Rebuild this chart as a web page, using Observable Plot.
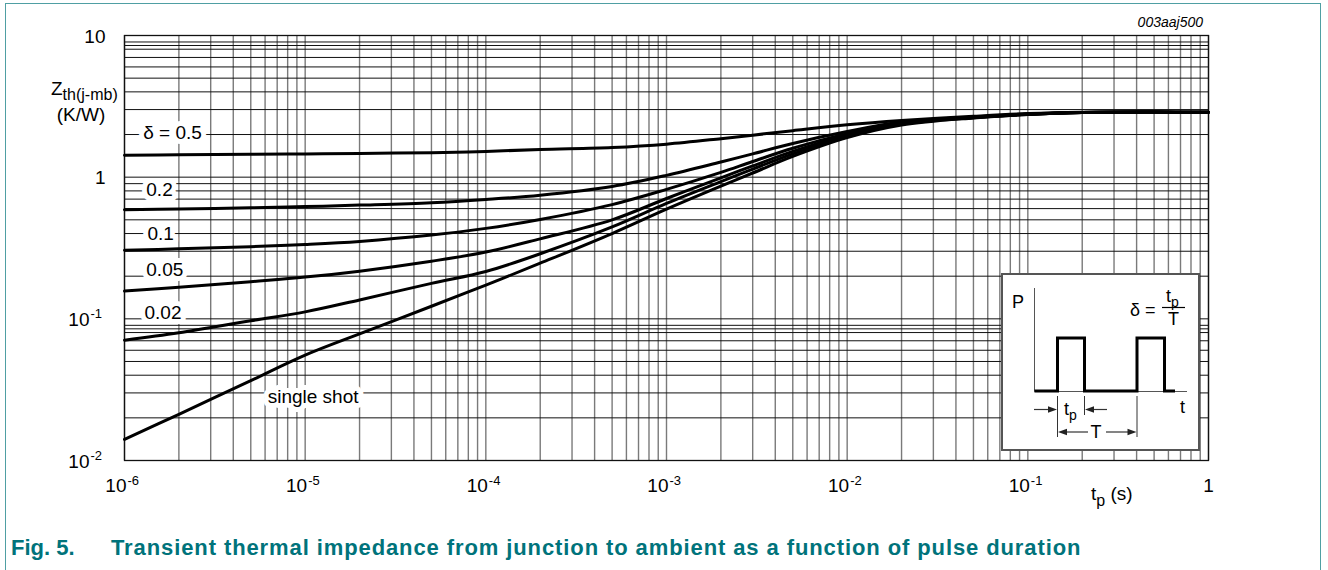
<!DOCTYPE html>
<html>
<head>
<meta charset="utf-8">
<script src="https://cdn.jsdelivr.net/npm/d3@7"></script>
<script src="https://cdn.jsdelivr.net/npm/@observablehq/plot@0.6"></script>
<style>
  body { margin: 0; background: #fff; width: 1328px; height: 570px; overflow: hidden; position: relative;
         font-family: "Liberation Sans", Arial, sans-serif; }
  #frame { position: absolute; left: 5px; top: 3px; width: 1316px; height: 620px;
           border: 1.5px solid #4f9fa3; border-bottom: none; box-sizing: border-box; }
  #chart { position: absolute; left: 0; top: 0; }
  #caption { position: absolute; top: 537px; left: 11px; font-weight: bold; font-size: 22px;
             line-height: 22px; color: #00737b; white-space: nowrap; }
  #caption .txt { position: absolute; left: 100px; top: 0; letter-spacing: 0.9px; }
</style>
</head>
<body>
<div id="frame"></div>
<div id="chart"></div>
<div id="caption"><span>Fig. 5.</span><span class="txt">Transient thermal impedance from junction to ambient as a function of pulse duration</span></div>
<script>
// Pulse duration t_p (s)
const tp = [1e-6, 2e-6, 5e-6, 1e-5, 2e-5, 5e-5, 1e-4, 2e-4, 5e-4, 1e-3,
            2e-3, 3e-3, 5e-3, 1e-2, 2e-2, 5e-2, 1e-1, 2e-1, 5e-1, 1];

// Zth(j-mb) in K/W for each duty cycle
const zDelta05  = [1.43, 1.44, 1.45, 1.46, 1.47, 1.49, 1.52, 1.57, 1.62, 1.71,
                   1.87, 1.98, 2.13, 2.34, 2.51, 2.69, 2.81, 2.87, 2.88, 2.87];
const zDelta02  = [0.59, 0.597, 0.608, 0.62, 0.635, 0.66, 0.696, 0.746, 0.86, 1.03,
                   1.28, 1.46, 1.73, 2.10, 2.45, 2.66, 2.79, 2.86, 2.88, 2.87];
const zDelta01  = [0.305, 0.312, 0.323, 0.335, 0.352, 0.39, 0.435, 0.503, 0.64, 0.82,
                   1.08, 1.29, 1.60, 2.03, 2.42, 2.65, 2.78, 2.86, 2.88, 2.87];
const zDelta005 = [0.157, 0.167, 0.183, 0.197, 0.217, 0.255, 0.296, 0.367, 0.50, 0.707,
                   0.99, 1.20, 1.52, 1.99, 2.40, 2.64, 2.78, 2.86, 2.88, 2.87];
const zDelta002 = [0.0707, 0.0797, 0.097, 0.112, 0.136, 0.178, 0.216, 0.288, 0.445, 0.652,
                   0.93, 1.14, 1.46, 1.95, 2.37, 2.63, 2.77, 2.86, 2.88, 2.87];
const zSingle   = [0.0141, 0.0212, 0.0366, 0.0554, 0.0783, 0.1227, 0.173, 0.247, 0.40, 0.594,
                   0.864, 1.07, 1.40, 1.90, 2.33, 2.62, 2.77, 2.86, 2.88, 2.87];

const seriesNames = ["0.5", "0.2", "0.1", "0.05", "0.02", "single shot"];
const seriesValues = [zDelta05, zDelta02, zDelta01, zDelta005, zDelta002, zSingle];

// Curve labels and their anchor points (t, Zth)
const labelText = ["δ = 0.5", "0.2", "0.1", "0.05", "0.02", "single shot"];
const labelT = [1.27e-6, 1.32e-6, 1.34e-6, 1.32e-6, 1.29e-6, 6.2e-6];
const labelZ = [2.04, 0.81, 0.40, 0.22, 0.11, 0.028];

// Axis ticks (decades shown as 10 with an exponent)
const xDecades = [1e-6, 1e-5, 1e-4, 1e-3, 1e-2, 1e-1];
const xDecadeExp = ["-6", "-5", "-4", "-3", "-2", "-1"];
const xUnitTick = [1];
const yDecades = [1e-2, 1e-1];
const yDecadeExp = ["-2", "-1"];
const yPlainTicks = [1, 10];
const yPlainLabels = ["1", "10"];

// Log grid lines
const xGrid = [];
for (let e = -6; e < 0; e++) for (let m = 1; m <= 9; m++) xGrid.push(m * 10 ** e);
xGrid.push(1);
const yGrid = [];
for (let e = -2; e < 1; e++) for (let m = 1; m <= 9; m++) yGrid.push(m * 10 ** e);
yGrid.push(10, 0.085, 8.5);

const rows = seriesNames.flatMap((name, s) =>
  tp.map((t, i) => ({t, z: seriesValues[s][i], delta: name})));
const curveLabels = labelText.map((label, i) => ({label, t: labelT[i], z: labelZ[i]}));
const xDecRows = xDecades.map((v, i) => ({v, exp: xDecadeExp[i]}));
const yDecRows = yDecades.map((v, i) => ({v, exp: yDecadeExp[i]}));
const yPlainRows = yPlainTicks.map((v, i) => ({v, label: yPlainLabels[i]}));

const font = "Liberation Sans, Arial, sans-serif";

const plot = Plot.plot({
  width: 1328,
  height: 500,
  marginLeft: 124,
  marginRight: 120,
  marginTop: 35,
  marginBottom: 40,
  x: {type: "log", domain: [1e-6, 1], axis: null},
  y: {type: "log", domain: [0.01, 10], axis: null},
  style: {fontFamily: font, fontSize: "19px", background: "transparent", overflow: "visible", color: "#000"},
  marks: [
    Plot.ruleX(xGrid, {stroke: "#7a7a7a", strokeWidth: 1.4}),
    Plot.ruleY(yGrid, {stroke: "#111", strokeWidth: 1}),
    Plot.frame({stroke: "#111", strokeWidth: 1.3}),
    Plot.line(rows, {x: "t", y: "z", z: "delta", stroke: "#000", strokeWidth: 3, curve: "catmull-rom"}),
    Plot.text(curveLabels, {x: "t", y: "z", text: "label", textAnchor: "start", fill: "#000",
                            stroke: "white", strokeWidth: 10, fontSize: 19}),
    // x tick labels: "10" with a raised exponent, and the plain "1"
    Plot.text(xDecRows, {x: "v", frameAnchor: "bottom", text: () => "10", textAnchor: "end",
                         dx: 2, dy: 31, fontSize: 19, fill: "#000"}),
    Plot.text(xDecRows, {x: "v", frameAnchor: "bottom", text: "exp", textAnchor: "start",
                         dx: 3, dy: 24, fontSize: 13, fill: "#000"}),
    Plot.text(xUnitTick, {x: d => d, frameAnchor: "bottom", text: () => "1", textAnchor: "middle",
                          dy: 31, fontSize: 19, fill: "#000"}),
    // y tick labels
    Plot.text(yDecRows, {y: "v", frameAnchor: "left", text: () => "10", textAnchor: "end",
                         dx: -35, dy: 1, fontSize: 19, fill: "#000"}),
    Plot.text(yDecRows, {y: "v", frameAnchor: "left", text: "exp", textAnchor: "start",
                         dx: -34, dy: -5, fontSize: 13, fill: "#000"}),
    Plot.text(yPlainRows, {y: "v", frameAnchor: "left", text: "label", textAnchor: "end",
                           dx: -19, dy: 1, fontSize: 19, fill: "#000"})
  ]
});

const svg = d3.select(plot);
svg.attr("font-family", font);

// Axis titles (anchored at their left edge)
const titles = svg.append("g").attr("text-anchor", "start").attr("fill", "#000");
const yt = titles.append("text").attr("font-size", 19);
yt.append("tspan").attr("x", 51).attr("y", 95).text("Z");
yt.append("tspan").attr("dy", 5).attr("font-size", 16).text("th(j-mb)");
titles.append("text").attr("x", 81).attr("y", 121).attr("text-anchor", "middle")
   .attr("font-size", 19).text("(K/W)");
const xt = titles.append("text").attr("font-size", 19);
xt.append("tspan").attr("x", 1091).attr("y", 500).text("t");
xt.append("tspan").attr("dy", 6).attr("font-size", 16).text("p");
xt.append("tspan").attr("dy", -6).text(" (s)");
titles.append("text").attr("x", 1203).attr("y", 27).attr("text-anchor", "end")
   .attr("font-size", 14).attr("font-style", "italic").text("003aaj500");

// Inset: pulse train defining the duty cycle
const g = svg.append("g").attr("text-anchor", "start").attr("fill", "#000");
g.append("rect").attr("x", 1002).attr("y", 274).attr("width", 197).attr("height", 176)
  .attr("fill", "#fff").attr("stroke", "#555").attr("stroke-width", 2);
g.append("line").attr("x1", 1034.5).attr("y1", 288).attr("x2", 1034.5).attr("y2", 391.5)
  .attr("stroke", "#555").attr("stroke-width", 1);
g.append("line").attr("x1", 1034.5).attr("y1", 391.5).attr("x2", 1187).attr("y2", 391.5)
  .attr("stroke", "#555").attr("stroke-width", 1);
g.append("polyline")
  .attr("points", "1034.5,391 1057.5,391 1057.5,338 1084.5,338 1084.5,391 1137,391 1137,338 1164.5,338 1164.5,391 1175,391")
  .attr("fill", "none").attr("stroke", "#000").attr("stroke-width", 3);
[[1057.5, 396, 437], [1084.5, 396, 415], [1137, 396, 437]].forEach(([x, a, b]) =>
  g.append("line").attr("x1", x).attr("x2", x).attr("y1", a).attr("y2", b)
   .attr("stroke", "#333").attr("stroke-width", 1));
function arrow(x1, y, x2) {
  const s = Math.sign(x2 - x1);
  g.append("line").attr("x1", x1).attr("y1", y).attr("x2", x2 - s * 6).attr("y2", y)
   .attr("stroke", "#333").attr("stroke-width", 1.2);
  g.append("path").attr("d", `M${x2},${y}L${x2 - s * 9},${y - 3.2}L${x2 - s * 9},${y + 3.2}Z`).attr("fill", "#222");
}
arrow(1034, 409.5, 1057);
arrow(1107, 409.5, 1085);
arrow(1088, 432, 1058);
arrow(1106, 432, 1136.5);
const tpl = g.append("text").attr("font-size", 18);
tpl.append("tspan").attr("x", 1064).attr("y", 415).text("t");
tpl.append("tspan").attr("dy", 5).attr("font-size", 14).text("p");
g.append("text").attr("x", 1096).attr("y", 438).attr("text-anchor", "middle").attr("font-size", 18).text("T");
g.append("text").attr("x", 1012).attr("y", 308).attr("font-size", 18).text("P");
g.append("text").attr("x", 1180).attr("y", 413).attr("font-size", 18).text("t");
g.append("text").attr("x", 1130).attr("y", 316).attr("font-size", 18).text("δ =");
const num = g.append("text").attr("font-size", 18);
num.append("tspan").attr("x", 1166).attr("y", 302).text("t");
num.append("tspan").attr("dy", 5).attr("font-size", 14).text("p");
g.append("line").attr("x1", 1162).attr("x2", 1185).attr("y1", 307.5).attr("y2", 307.5)
  .attr("stroke", "#000").attr("stroke-width", 1.2);
g.append("text").attr("x", 1173.5).attr("y", 325).attr("text-anchor", "middle").attr("font-size", 18).text("T");

document.getElementById("chart").appendChild(plot);
</script>
</body>
</html>
